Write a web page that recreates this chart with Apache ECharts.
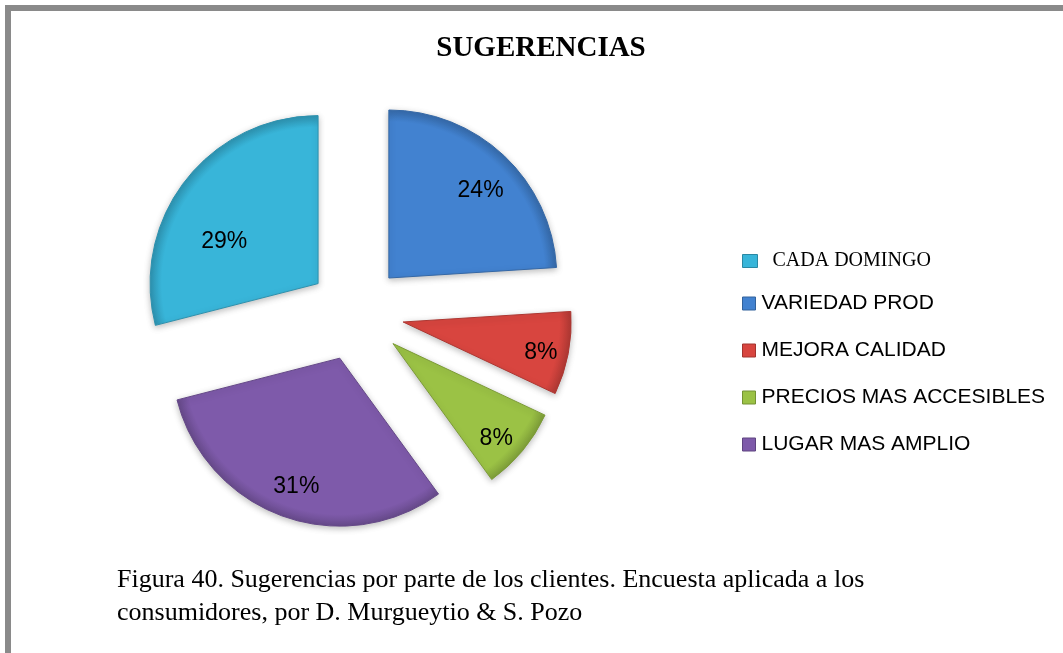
<!DOCTYPE html>
<html>
<head>
<meta charset="utf-8">
<script src="https://cdn.jsdelivr.net/npm/echarts@6/dist/echarts.min.js"></script>
<style>
  html, body { margin: 0; padding: 0; background: #ffffff; }
  #chart { width: 1063px; height: 653px; }
</style>
</head>
<body>
<div id="chart"></div>
<script>
// Survey results: customer suggestions (percent of respondents)
const categories = ['VARIEDAD PROD', 'MEJORA CALIDAD', 'PRECIOS MAS ACCESIBLES', 'LUGAR MAS AMPLIO', 'CADA DOMINGO'];
const values = [24, 8, 8, 31, 29];
const sliceColors = ['#4282d0', '#d8453f', '#9bc245', '#7e5aaa', '#38b5d9'];
const legendOrder = ['CADA DOMINGO', 'VARIEDAD PROD', 'MEJORA CALIDAD', 'PRECIOS MAS ACCESIBLES', 'LUGAR MAS AMPLIO'];
const titleText = 'SUGERENCIAS';
const captionText = 'Figura 40. Sugerencias por parte de los clientes. Encuesta aplicada a los\nconsumidores, por D. Murgueytio & S. Pozo';

const center = [356, 313];
const pieRadius = 168;
const explode = 48;

function shade(hex, k) {
  const n = parseInt(hex.slice(1), 16);
  let r = (n >> 16) & 255, g = (n >> 8) & 255, b = n & 255;
  r = Math.round(r * k); g = Math.round(g * k); b = Math.round(b * k);
  return 'rgb(' + Math.min(r, 255) + ',' + Math.min(g, 255) + ',' + Math.min(b, 255) + ')';
}

// bevelled look: flat fill that darkens slightly toward the rim
const sliceData = categories.map((name, i) => ({
  name: name,
  value: values[i],
  selected: true,
  itemStyle: {
    color: {
      type: 'radial', global: true, x: center[0], y: center[1], r: pieRadius,
      colorStops: [
        { offset: 0, color: sliceColors[i] },
        { offset: 0.93, color: sliceColors[i] },
        { offset: 1, color: shade(sliceColors[i], 0.82) }
      ]
    },
    borderColor: shade(sliceColors[i], 0.8),
    borderWidth: 1
  }
}));

const labelData = categories.map((name, i) => ({
  name: name,
  value: values[i],
  selected: true
}));

// legend swatches share the slice colours
function legendItem(name) {
  const c = sliceColors[categories.indexOf(name)];
  return { name: name, itemStyle: { color: c, borderColor: shade(c, 0.75), borderWidth: 1 } };
}

// small nudges for the percent labels (dx, dy) by slice
const labelNudge = [[0, 10], [6, 6], [0, 10], [2, 2], [12, 40]];

const chart = echarts.init(document.getElementById('chart'), null, { renderer: 'canvas' });

chart.setOption({
  animation: false,
  backgroundColor: '#ffffff',
  color: sliceColors,
  graphic: [{
    type: 'rect',
    silent: true,
    shape: { x: 8, y: 8, width: 1120, height: 720 },
    style: { fill: 'none', stroke: '#8a8a8a', lineWidth: 6 }
  }],
  title: [{
    text: titleText,
    left: 536,
    textAlign: 'center',
    top: 29,
    textStyle: { fontFamily: 'Liberation Serif', fontWeight: 'bold', fontSize: 29, color: '#000' }
  }, {
    text: captionText,
    left: 112,
    top: 559,
    textStyle: { fontFamily: 'Liberation Serif', fontWeight: 'normal', fontSize: 26, lineHeight: 33, color: '#000' }
  }],
  legend: [{
    data: [legendItem(legendOrder[0])],
    orient: 'vertical',
    left: 737,
    top: 246,
    itemWidth: 15,
    itemHeight: 13,
    icon: 'rect',
    itemGap: 10,
    selectedMode: false,
    textStyle: { fontFamily: 'Liberation Serif', fontSize: 20, color: '#000', padding: [0, 0, 0, 10] }
  }, {
    data: legendOrder.slice(1).map(legendItem),
    orient: 'vertical',
    left: 737,
    top: 288,
    itemWidth: 13,
    itemHeight: 13,
    icon: 'rect',
    itemGap: 26,
    selectedMode: false,
    textStyle: { fontFamily: 'Liberation Sans', fontSize: 21, color: '#000', padding: [0, 0, 0, 1] }
  }],
  series: [{
    type: 'pie',
    center: center,
    radius: [0, pieRadius],
    startAngle: 90,
    clockwise: true,
    selectedMode: 'multiple',
    selectedOffset: explode,
    avoidLabelOverlap: false,
    label: { show: false },
    labelLine: { show: false },
    emphasis: { disabled: true },
    itemStyle: { shadowBlur: 6, shadowColor: 'rgba(0,0,0,0.25)', shadowOffsetY: 2 },
    data: sliceData
  }, {
    // transparent companion ring that places the percent labels further out
    type: 'pie',
    center: center,
    radius: [0, 262],
    startAngle: 90,
    clockwise: true,
    selectedMode: 'multiple',
    selectedOffset: explode,
    silent: true,
    avoidLabelOverlap: false,
    itemStyle: { color: 'rgba(0,0,0,0)' },
    emphasis: { disabled: true },
    labelLine: { show: false },
    label: {
      show: true,
      position: 'inside',
      formatter: '{d}%',
      fontFamily: 'Liberation Sans',
      fontSize: 23,
      color: '#000'
    },
    labelLayout: function (params) {
      const n = labelNudge[params.dataIndex] || [0, 0];
      return { dx: n[0], dy: n[1] };
    },
    data: labelData
  }]
});
</script>
</body>
</html>
